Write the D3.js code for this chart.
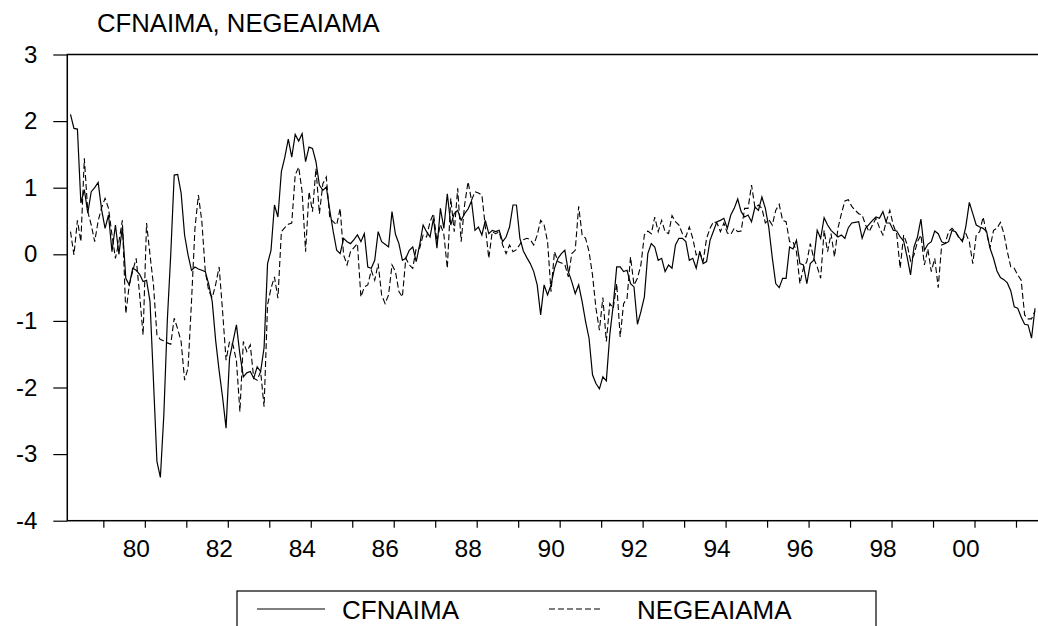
<!DOCTYPE html>
<html><head><meta charset="utf-8">
<script src="https://cdn.jsdelivr.net/npm/d3@7"></script>
<style>
body{margin:0;background:#fff}
text{font-family:"Liberation Sans",Arial,Helvetica,sans-serif;fill:#000}
</style>
</head><body>
<svg id="c" width="1038" height="626"></svg>
<script>
// ---- data (monthly, starting 1978:03) ----
const startYear = 1978, startMonth = 3;
const cfnaima = [
2.10,1.89,1.88,0.77,0.97,0.62,0.94,1.00,1.08,0.67,
0.39,0.59,0.04,0.44,0.00,0.41,-0.36,-0.46,-0.21,-0.24,
-0.30,-0.41,-0.39,-0.71,-1.90,-3.11,-3.35,-2.41,-1.00,0.00,
1.19,1.20,0.92,0.29,-0.01,-0.24,-0.19,-0.22,-0.24,-0.26,
-0.45,-0.71,-1.30,-1.75,-2.15,-2.61,-1.56,-1.31,-1.06,-1.50,
-1.84,-1.78,-1.76,-1.86,-1.69,-1.76,-1.40,-0.14,0.06,0.74,
0.56,1.24,1.46,1.73,1.46,1.80,1.70,1.81,1.39,1.61,
1.59,1.39,1.04,0.96,1.01,0.66,0.34,0.06,0.01,0.24,
0.19,0.16,0.22,0.29,0.19,0.31,-0.19,-0.21,-0.09,0.34,
0.19,0.15,0.11,0.64,0.30,0.16,-0.09,-0.06,0.06,0.11,
-0.11,0.14,0.44,0.34,0.26,0.54,0.09,0.69,0.39,0.91,
0.44,0.61,0.66,0.51,0.61,0.68,0.80,0.36,0.41,0.29,
0.51,0.31,0.36,0.34,0.36,0.19,0.26,0.41,0.74,0.74,
0.24,0.05,-0.05,-0.14,-0.26,-0.46,-0.91,-0.46,-0.61,-0.46,
-0.21,-0.06,0.01,0.06,-0.26,-0.41,-0.59,-0.46,-0.71,-1.01,
-1.26,-1.81,-1.94,-2.02,-1.84,-1.90,-1.21,-0.76,-0.19,-0.19,
-0.26,-0.24,-0.44,-0.49,-1.05,-0.86,-0.64,0.01,0.16,0.11,
-0.09,-0.06,-0.26,-0.16,-0.21,0.14,0.24,0.24,0.19,-0.09,
-0.06,-0.21,0.04,-0.14,-0.11,0.21,0.35,0.49,0.51,0.54,
0.39,0.59,0.69,0.83,0.64,0.56,0.59,0.49,0.71,0.66,
0.86,0.69,0.40,-0.05,-0.44,-0.50,-0.36,-0.36,0.11,0.08,
0.21,-0.14,-0.16,-0.44,-0.14,-0.09,0.36,0.24,0.55,0.44,
0.36,0.31,0.26,0.29,0.24,0.40,0.47,0.48,0.49,0.24,
0.39,0.45,0.51,0.56,0.54,0.64,0.47,0.47,0.36,0.35,
0.26,0.20,-0.04,-0.31,0.11,0.26,0.53,0.06,0.15,0.19,
0.35,0.31,0.19,0.16,0.19,0.36,0.34,0.26,0.19,0.42,
0.78,0.61,0.44,0.41,0.39,0.34,0.09,-0.06,-0.25,-0.35,
-0.38,-0.43,-0.55,-0.79,-0.81,-0.94,-1.05,-1.06,-1.26,-0.81
];
const negeaiama = [
0.34,-0.01,0.51,0.19,1.44,0.64,0.44,0.19,0.50,0.70,
0.84,0.69,0.29,-0.06,0.19,0.51,-0.89,-0.46,-0.25,-0.06,
-0.61,-1.21,0.47,-0.01,-0.46,-1.21,-1.28,-1.30,-1.33,-1.35,
-0.96,-1.12,-1.31,-1.89,-1.71,-0.71,0.39,0.89,0.49,-0.26,
-0.55,-0.65,-0.45,-0.19,-0.86,-1.59,-1.31,-1.36,-1.60,-2.36,
-1.31,-1.46,-1.36,-1.86,-1.89,-1.76,-2.29,-0.76,-0.51,-0.34,
-0.66,0.34,0.40,0.45,0.47,1.19,1.31,0.94,0.04,0.94,
0.64,1.29,0.61,1.06,1.16,0.54,0.49,0.44,0.69,-0.01,
-0.16,0.04,0.10,0.16,-0.64,-0.49,-0.46,-0.24,-0.39,-0.14,
-0.61,-0.74,-0.61,-0.16,-0.26,-0.56,-0.64,-0.06,-0.16,-0.21,
0.09,0.09,0.29,0.26,0.49,0.61,0.19,0.45,0.30,-0.21,
0.84,0.34,0.99,0.19,0.74,1.09,0.81,0.94,0.92,0.89,
0.41,-0.06,0.34,0.31,0.34,0.14,0.01,0.14,0.04,0.07,
0.15,0.22,0.24,0.22,0.14,0.29,0.51,0.44,0.19,-0.56,
0.04,-0.11,-0.13,-0.15,-0.34,0.01,0.06,0.72,0.29,0.24,
0.04,-0.31,-0.81,-1.14,-0.65,-1.31,-0.74,-0.81,-0.44,-1.24,
-0.74,-0.66,-0.04,-0.46,-0.36,-0.16,0.29,0.35,0.31,0.56,
0.34,0.51,0.34,0.31,0.58,0.49,0.44,0.31,0.26,0.41,
0.24,-0.01,0.04,-0.11,0.24,0.39,0.49,0.47,0.34,0.47,
0.32,0.30,0.39,0.34,0.35,0.69,0.69,1.04,0.70,0.74,
0.69,0.47,0.52,0.44,0.66,0.75,0.51,0.49,0.19,0.19,
0.04,-0.44,-0.21,-0.11,0.16,-0.06,-0.19,-0.36,0.36,0.04,
0.31,-0.04,0.39,0.61,0.80,0.82,0.72,0.66,0.61,0.59,
0.44,0.34,0.44,0.54,0.40,0.29,0.50,0.66,0.44,0.30,
-0.21,0.29,0.15,-0.10,-0.01,0.19,0.29,-0.16,0.08,-0.26,
-0.06,-0.50,0.14,0.16,0.34,0.39,0.34,0.24,0.21,0.31,
0.19,-0.14,0.29,0.34,0.56,0.31,0.10,0.36,0.39,0.48,
0.31,0.04,-0.19,-0.21,-0.31,-0.39,-0.91,-0.97,-0.97,-0.85
];
const yTicks = [-4,-3,-2,-1,0,1,2,3];
const tickYears = d3.range(1979, 2002);
const labelYears = d3.range(1980, 2001, 2);
const seriesNames = ["CFNAIMA", "NEGEAIAMA"];
const chartTitle = "CFNAIMA, NEGEAIAMA";

// ---- drawing ----
const svg = d3.select("#c");
const n = cfnaima.length;
const monthIdx = (yr, m) => (yr - startYear) * 12 + (m - startMonth);
const x = d3.scaleLinear().domain([0, n - 1]).range([70.5, 70.5 + (n - 1) * 3.457]);
const y = d3.scaleLinear().domain([-4, 3]).range([520.7, 54.5]);
const frameL = x(-0.93), frameR = x(n + 1.5);
const frameT = y(3), frameB = y(-4);

// frame
svg.append("rect")
  .attr("x", frameL).attr("y", frameT)
  .attr("width", frameR - frameL).attr("height", frameB - frameT)
  .attr("fill", "none").attr("stroke", "#000").attr("stroke-width", 1.5);

// y axis
const ya = svg.append("g").attr("transform", `translate(${frameL},0)`)
  .call(d3.axisLeft(y).tickValues(yTicks).tickSize(14).tickPadding(16)
    .tickFormat(d => String(d)));
ya.select(".domain").remove();
ya.selectAll("line").attr("stroke", "#000").attr("stroke-width", 1.2);
ya.selectAll("text").attr("font-size", 24).attr("font-family", null).attr("fill", "#000");

// x axis ticks (year boundaries)
const xa = svg.append("g").attr("transform", `translate(0,${frameB})`)
  .call(d3.axisBottom(x).tickValues(tickYears.map(t => monthIdx(t, 1) - 0.5))
    .tickSize(7).tickFormat(""));
xa.select(".domain").remove();
xa.selectAll("line").attr("stroke", "#000").attr("stroke-width", 1.2);

// x labels
svg.append("g").selectAll("text").data(labelYears).join("text")
  .attr("x", d => x(monthIdx(d, 1) - 0.5) - 8.5)
  .attr("y", 557)
  .attr("text-anchor", "middle")
  .attr("font-size", 24.5)
  .text(d => String(d).slice(2));

// title
svg.append("text").attr("x", 97).attr("y", 32).attr("font-size", 25.7).text(chartTitle);

// series
const line = d3.line().x((d, i) => x(i)).y(d => y(d));
svg.append("path").datum(negeaiama).attr("d", line)
  .attr("fill", "none").attr("stroke", "#000").attr("stroke-width", 1.1)
  .attr("stroke-dasharray", "6,3");
svg.append("path").datum(cfnaima).attr("d", line)
  .attr("fill", "none").attr("stroke", "#000").attr("stroke-width", 1.2);

// legend
const lg = svg.append("g");
lg.append("rect").attr("x", 237).attr("y", 591).attr("width", 639).attr("height", 60)
  .attr("fill", "none").attr("stroke", "#000").attr("stroke-width", 1.2);
const entries = [
  {name: seriesNames[0], x1: 257, x2: 325, tx: 342, dash: null},
  {name: seriesNames[1], x1: 549, x2: 603, tx: 637, dash: "6,3"}
];
entries.forEach(e => {
  lg.append("line").attr("x1", e.x1).attr("x2", e.x2).attr("y1", 609).attr("y2", 609)
    .attr("stroke", "#000").attr("stroke-width", 1.1).attr("stroke-dasharray", e.dash);
  lg.append("text").attr("x", e.tx).attr("y", 619).attr("font-size", 26).text(e.name);
});
</script>
</body></html>
